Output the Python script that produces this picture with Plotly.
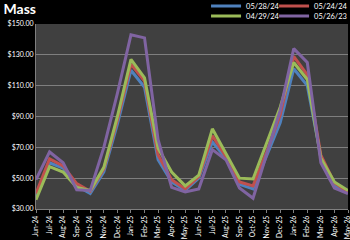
import plotly.graph_objects as go

months = ["Jun-24","Jul-24","Aug-24","Sep-24","Oct-24","Nov-24","Dec-24","Jan-25","Feb-25","Mar-25",
          "Apr-25","May-25","Jun-25","Jul-25","Aug-25","Sep-25","Oct-25","Nov-25","Dec-25","Jan-26",
          "Feb-26","Mar-26","Apr-26","May-26"]
s_052824 = [38.5, 60, 56.5, 45, 40, 54, 85, 120, 109, 62, 47.5, 42, 50, 73.5, 63, 46, 43, 64, 86, 121, 110, 64, 45, 40.5]
s_052424 = [40, 62.5, 58, 46.5, 41.5, 56, 88, 124, 113, 65, 49, 43, 51, 77.5, 64, 47.5, 45, 67, 91, 129, 117, 65, 47, 41]
s_042924 = [36, 57.5, 54, 44, 42, 57, 90, 127, 115, 69.5, 54, 45, 52, 82, 66, 50, 49.5, 73, 96, 125, 114, 63, 47.5, 42]
s_052623 = [49, 67, 60, 42.5, 42, 70, 105, 143, 141, 75, 44, 41, 43, 68.5, 62, 43.6, 37, 66, 94, 134, 125, 60, 43.6, 40]

names = ["05/28/24", "05/24/24", "04/29/24", "05/26/23"]
colors = ["#4F81BD", "#C0504D", "#9BBB59", "#8064A2"]
legends = ["legend", "legend2", "legend3", "legend4"]
series = [s_052824, s_052424, s_042924, s_052623]

fig = go.Figure()
for i in range(4):
    fig.add_trace(go.Scatter(x=months, y=series[i], name=names[i], mode="lines",
                             line=dict(color=colors[i], width=3), legend=legends[i]))

font = "Lato, Liberation Sans, sans-serif"
leg_common = dict(orientation="h", xanchor="left", yanchor="middle",
                  bgcolor="rgba(0,0,0,0)", font=dict(size=7.5, color="white", family=font),
                  tracegroupgap=0, itemwidth=30)
col1, col2 = 0.545, 0.763
row1, row2 = 1.097, 1.043
fig.update_layout(
    width=350, height=240,
    margin=dict(l=36, r=2, t=24, b=31, autoexpand=False),
    paper_bgcolor="black", plot_bgcolor="#404040",
    font=dict(family=font, color="white", size=7),
    title=dict(text="<b>Mass</b>", x=0.01, xanchor="left", y=0.962, yanchor="middle",
               font=dict(size=14, color="white", family=font)),
    legend=dict(x=col1, y=row1, **leg_common),
    legend2=dict(x=col2, y=row1, **leg_common),
    legend3=dict(x=col1, y=row2, **leg_common),
    legend4=dict(x=col2, y=row2, **leg_common),
    showlegend=True,
)
fig.update_xaxes(type="category", tickangle=-90, tickfont=dict(size=6.8, color="white"),
                 showgrid=False, showline=True, linecolor="#7f7f7f", ticks="outside",
                 tickcolor="#7f7f7f", ticklen=3, fixedrange=True)
fig.update_yaxes(range=[30, 150], tick0=30, dtick=20, tickprefix="$", tickformat=".2f",
                 tickfont=dict(size=7, color="white"), gridcolor="#7f7f7f", gridwidth=1,
                 showline=True, linecolor="#7f7f7f", zeroline=False, ticks="", fixedrange=True)

fig.write_html("out.html", config={"displayModeBar": False},
               post_script="document.body.style.margin='0';document.body.style.background='black';")
